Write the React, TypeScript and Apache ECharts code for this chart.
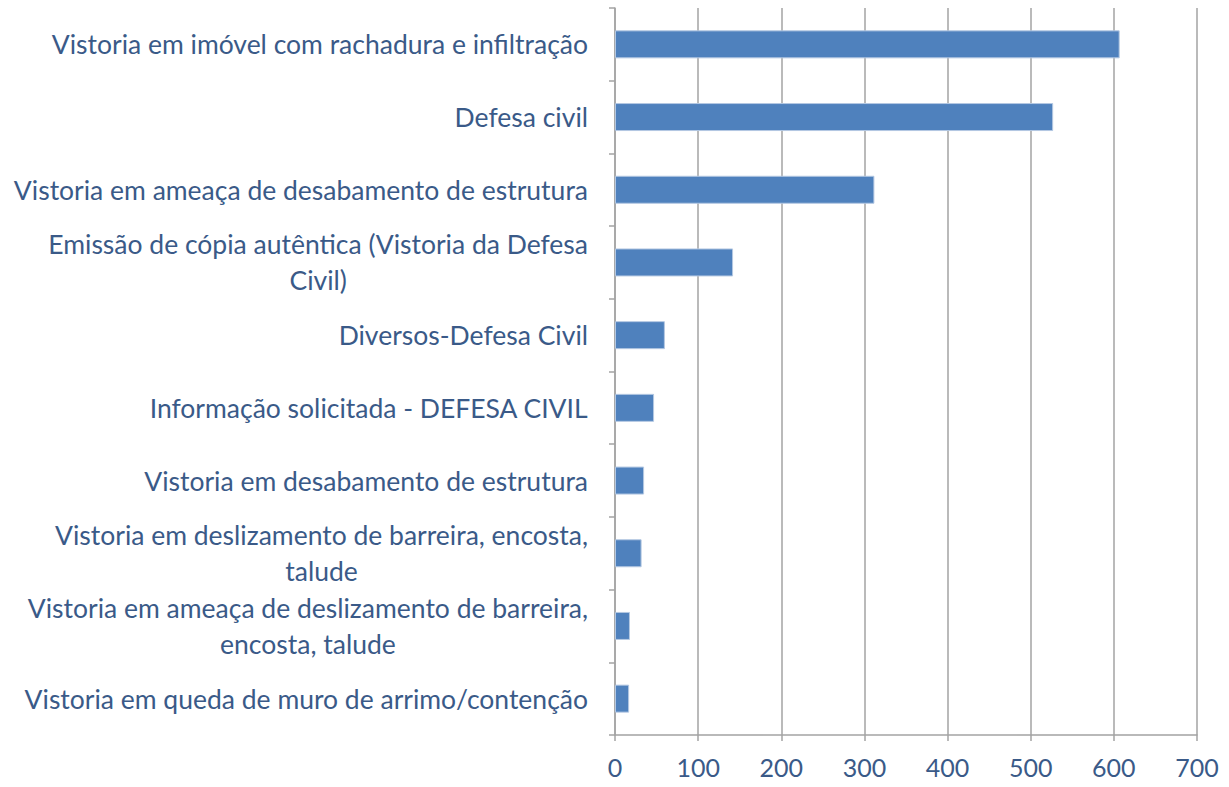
import React, { useEffect, useRef } from "react";
import * as echarts from "echarts";

const categories: string[] = [
  "Vistoria em imóvel com rachadura e infiltração",
  "Defesa civil",
  "Vistoria em ameaça de desabamento de estrutura",
  "Emissão de cópia autêntica (Vistoria da Defesa\nCivil)",
  "Diversos-Defesa Civil",
  "Informação solicitada - DEFESA CIVIL",
  "Vistoria em desabamento de estrutura",
  "Vistoria em deslizamento de barreira, encosta,\ntalude",
  "Vistoria em ameaça de deslizamento de barreira,\nencosta, talude",
  "Vistoria em queda de muro de arrimo/contenção",
];
const values: number[] = [607, 527, 312, 142, 60, 47, 35, 32, 18, 17];
const xMin = 0;
const xMax = 700;
const xInterval = 100;

const TEXT = "#3a5a88";
const GRID = "#a3a3a3";
const FONT = "Lato";

export default function App() {
  const ref = useRef<HTMLDivElement>(null);
  useEffect(() => {
    document.body.style.margin = "0";
    const chart = echarts.init(ref.current!, undefined, { renderer: "svg" });
    chart.setOption({
      animation: false,
      backgroundColor: "#ffffff",
      grid: { left: 615, right: 32, top: 8, bottom: 52, containLabel: false },
      xAxis: {
        type: "value",
        min: xMin,
        max: xMax,
        interval: xInterval,
        axisLine: { show: true, lineStyle: { color: GRID, width: 1.5 } },
        axisTick: { show: true, length: 6, lineStyle: { color: GRID, width: 1.5 } },
        splitLine: { show: true, lineStyle: { color: GRID, width: 1.5 } },
        axisLabel: { color: TEXT, fontFamily: FONT, fontSize: 25, margin: 19 },
      },
      yAxis: {
        type: "category",
        inverse: true,
        data: categories,
        axisLine: { show: true, lineStyle: { color: GRID, width: 1.5 } },
        axisTick: { show: true, length: 6, lineStyle: { color: GRID, width: 1.5 } },
        splitLine: { show: false },
        axisLabel: {
          color: TEXT,
          fontFamily: FONT,
          fontSize: 26.5,
          margin: 27,
          formatter: (v: string) =>
            v
              .split("\n")
              .map((l) => `{a|${l}}`)
              .join("\n"),
          rich: {
            a: {
              color: TEXT,
              fontFamily: FONT,
              fontSize: 26.5,
              lineHeight: 36,
              align: "center",
            },
          },
        },
      },
      series: [
        {
          type: "bar",
          data: values,
          barWidth: 28,
          itemStyle: { color: "#4f81bd", borderColor: "#b4c8e2", borderWidth: 1 },
        },
      ],
    });
    return () => chart.dispose();
  }, []);
  return <div ref={ref} style={{ width: 1229, height: 787 }} />;
}
